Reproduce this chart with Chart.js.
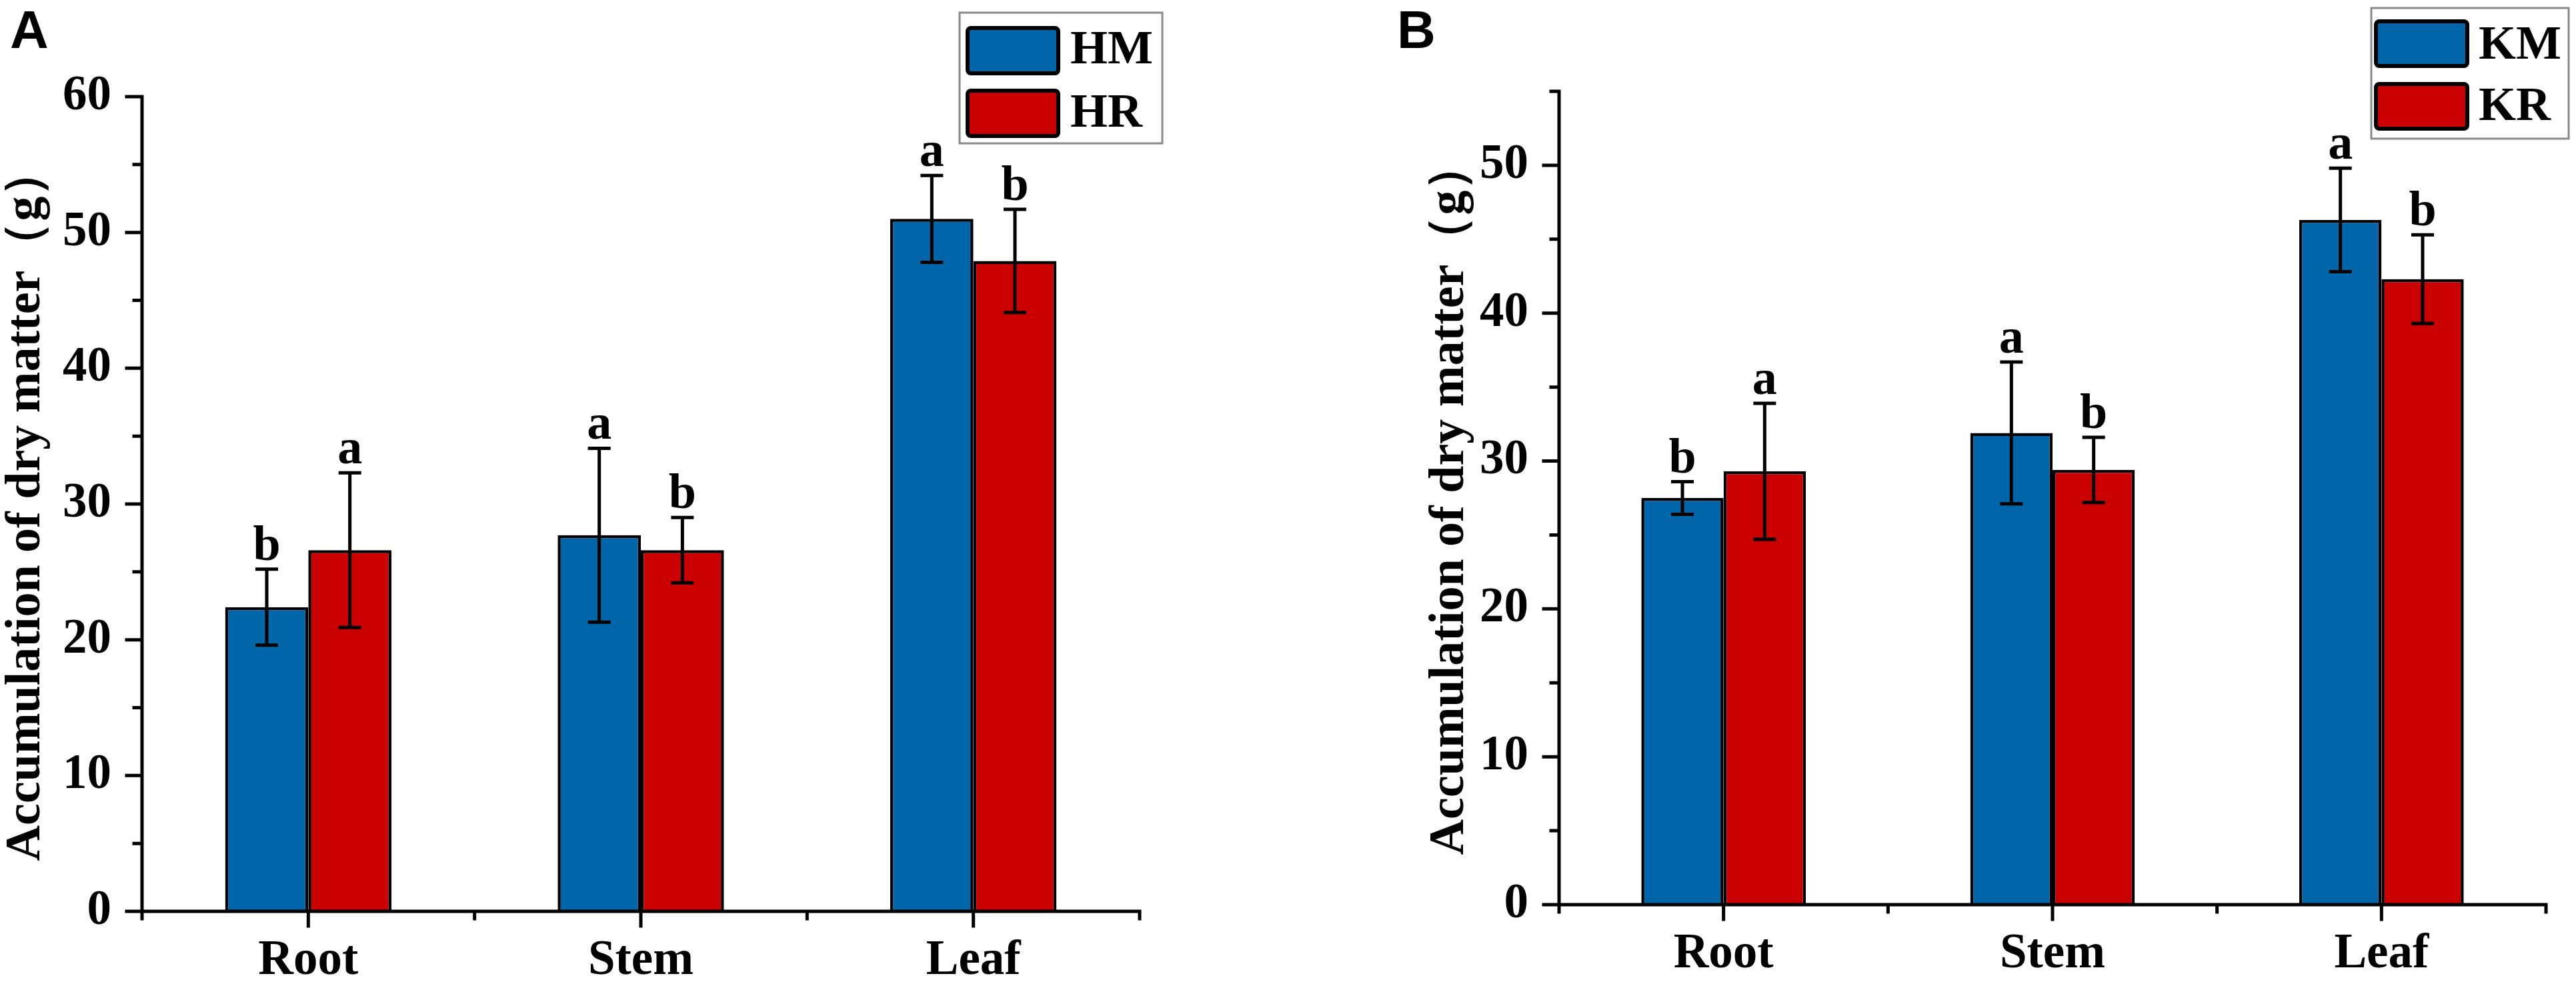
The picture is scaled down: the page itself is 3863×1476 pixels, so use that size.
<!DOCTYPE html>
<html lang="en">
<head>
<meta charset="UTF-8" />
<title>Accumulation of dry matter</title>
<script src="https://cdn.jsdelivr.net/npm/chart.js"></script>
<style>
  body { margin: 0; background: #fff; width: 3863px; height: 1476px; position: relative; overflow: hidden; }
  canvas { position: absolute; top: 0; }
  #chartA { left: 0; }
  #chartB { left: 1931px; }
</style>
</head>
<body>
<canvas id="chartA" width="1931" height="1476"></canvas>
<canvas id="chartB" width="1932" height="1476"></canvas>
<script>
const organs = ['Root', 'Stem', 'Leaf'];

// panel A
const hmMeans = [22.4, 27.7, 51.0];
const hmErr = [2.8, 6.4, 3.2];
const hmSig = ['b', 'a', 'a'];
const hrMeans = [26.6, 26.6, 47.9];
const hrErr = [5.7, 2.4, 3.8];
const hrSig = ['a', 'b', 'b'];

// panel B
const kmMeans = [27.5, 31.9, 46.3];
const kmErr = [1.1, 4.8, 3.5];
const kmSig = ['b', 'a', 'a'];
const krMeans = [29.3, 29.4, 42.3];
const krErr = [4.6, 2.2, 3.0];
const krSig = ['a', 'b', 'b'];

const yTicksA = [0, 10, 20, 30, 40, 50, 60];
const yTicksB = [0, 10, 20, 30, 40, 50];

const BLUE = '#0066A9';
const RED = '#CB0000';
const SERIF = '"Liberation Serif", "Times New Roman", serif';
const tickFont = { family: SERIF, weight: 'bold', size: 73 };

// error bars, letters, hand drawn axes with minor ticks, legend, panel letter
const panelDecor = {
  id: 'panelDecor',
  afterDatasetsDraw(chart, args, opts) {
    const ctx = chart.ctx;
    const xs = chart.scales.x, ys = chart.scales.y;
    const area = chart.chartArea;
    ctx.save();
    ctx.strokeStyle = '#000';
    ctx.fillStyle = '#000';

    chart.data.datasets.forEach((ds, di) => {
      chart.getDatasetMeta(di).data.forEach((bar, i) => {
        const v = ds.data[i], e = ds.errors[i];
        const yTop = ys.getPixelForValue(v + e);
        const yBot = ys.getPixelForValue(v - e);
        ctx.lineWidth = 5;
        ctx.beginPath();
        ctx.moveTo(bar.x, yTop); ctx.lineTo(bar.x, yBot);
        ctx.moveTo(bar.x - 17, yTop); ctx.lineTo(bar.x + 17, yTop);
        ctx.moveTo(bar.x - 17, yBot); ctx.lineTo(bar.x + 17, yBot);
        ctx.stroke();
        ctx.font = 'bold 74px ' + SERIF;
        ctx.textAlign = 'center';
        ctx.textBaseline = 'alphabetic';
        ctx.fillText(ds.letters[i], bar.x, yTop - 14);
      });
    });

    // axes
    ctx.lineWidth = 5;
    ctx.lineCap = 'square';
    ctx.beginPath();
    ctx.moveTo(area.left, area.bottom + 11);
    ctx.lineTo(area.left, area.top);
    ctx.moveTo(area.left - 23, area.bottom);
    ctx.lineTo(area.right, area.bottom);
    // y ticks, major every 10, minor every 5
    for (let v = ys.min; v <= ys.max + 1e-6; v += 5) {
      const py = ys.getPixelForValue(v);
      const len = v % 10 === 0 ? 23 : 12;
      ctx.moveTo(area.left - len, py);
      ctx.lineTo(area.left, py);
    }
    // x ticks: major at categories, minor at boundaries
    const half = (xs.getPixelForValue(1) - xs.getPixelForValue(0)) / 2;
    organs.forEach((c, i) => {
      const px = xs.getPixelForValue(i);
      ctx.moveTo(px, area.bottom);
      ctx.lineTo(px, area.bottom + 22);
      ctx.moveTo(px + half, area.bottom);
      ctx.lineTo(px + half, area.bottom + 11);
    });
    ctx.stroke();
    ctx.restore();
  },
  afterDraw(chart, args, opts) {
    const ctx = chart.ctx;
    const lg = opts.legend;
    ctx.save();
    // panel letter
    ctx.fillStyle = '#000';
    ctx.font = 'bold 80px "Liberation Sans", Arial, sans-serif';
    ctx.textAlign = 'left';
    ctx.textBaseline = 'alphabetic';
    ctx.fillText(opts.letter, opts.letterX, opts.letterY);

    // legend
    ctx.strokeStyle = '#8a8a8a';
    ctx.lineWidth = 3;
    ctx.strokeRect(lg.x, lg.y, lg.w, lg.h);
    chart.data.datasets.forEach((ds, i) => {
      const sy = lg.rowY[i];
      ctx.beginPath();
      ctx.roundRect(lg.swX + 3, sy + 3, lg.swW - 6, lg.swH - 6, 5);
      ctx.fillStyle = ds.backgroundColor;
      ctx.fill();
      ctx.strokeStyle = '#000';
      ctx.lineWidth = 6;
      ctx.stroke();
      ctx.fillStyle = '#000';
      ctx.font = 'bold 72px ' + SERIF;
      ctx.textAlign = 'left';
      ctx.textBaseline = 'alphabetic';
      ctx.fillText(ds.label, lg.textX, lg.textY[i]);
    });
    ctx.restore();
  }
};

function makeChart(id, names, means, errs, sigs, yMax, yTicks, geom) {
  return new Chart(document.getElementById(id), {
    type: 'bar',
    data: {
      labels: organs,
      datasets: [0, 1].map(k => ({
        label: names[k],
        data: means[k],
        errors: errs[k],
        letters: sigs[k],
        backgroundColor: k === 0 ? BLUE : RED,
        borderColor: '#000',
        borderWidth: 4.5,
        borderSkipped: 'start',
        categoryPercentage: 0.5,
        barPercentage: 1.0
      }))
    },
    options: {
      responsive: false,
      animation: false,
      events: [],
      layout: { padding: { left: 0, right: geom.padRight, top: geom.padTop, bottom: 0 } },
      plugins: {
        legend: { display: false },
        tooltip: { enabled: false },
        panelDecor: geom.decor
      },
      scales: {
        x: {
          type: 'category',
          offset: true,
          grid: { display: false, drawTicks: false },
          border: { display: false },
          ticks: { color: '#000', font: tickFont, padding: 31, maxRotation: 0 },
          afterFit: s => { s.height = geom.xHeight; }
        },
        y: {
          min: 0,
          max: yMax,
          grid: { display: false, drawTicks: false },
          border: { display: false },
          ticks: {
            color: '#000',
            font: tickFont,
            padding: 46,
            stepSize: 10,
            includeBounds: false,
            callback: v => yTicks.includes(v) ? v : ''
          },
          title: {
            display: true,
            text: 'Accumulation of dry matter（g）',
            color: '#000',
            font: { family: SERIF, weight: 'bold', size: 74, lineHeight: 1.0 },
            padding: { top: geom.titlePad, bottom: 0 }
          },
          afterFit: s => { s.width = geom.yWidth; }
        }
      }
    },
    plugins: [panelDecor]
  });
}

makeChart('chartA', ['HM', 'HR'], [hmMeans, hrMeans], [hmErr, hrErr], [hmSig, hrSig], 60, yTicksA, {
  padRight: 222, padTop: 145, xHeight: 109, yWidth: 213, titlePad: 3,
  decor: {
    letter: 'A', letterX: 15, letterY: 72,
    legend: { x: 1439, y: 19, w: 304, h: 196, swX: 1448, swW: 142, swH: 74, rowY: [39, 133], textX: 1605, textY: [95, 190] }
  }
});

makeChart('chartB', ['KM', 'KR'], [kmMeans, krMeans], [kmErr, krErr], [kmSig, krSig], 55, yTicksB, {
  padRight: 45, padTop: 137, xHeight: 119, yWidth: 407, titlePad: 207,
  decor: {
    letter: 'B', letterX: 164, letterY: 72,
    legend: { x: 1625, y: 12, w: 296, h: 196, swX: 1629, swW: 143, swH: 73, rowY: [29, 123], textX: 1786, textY: [88, 180] }
  }
});
</script>
</body>
</html>
